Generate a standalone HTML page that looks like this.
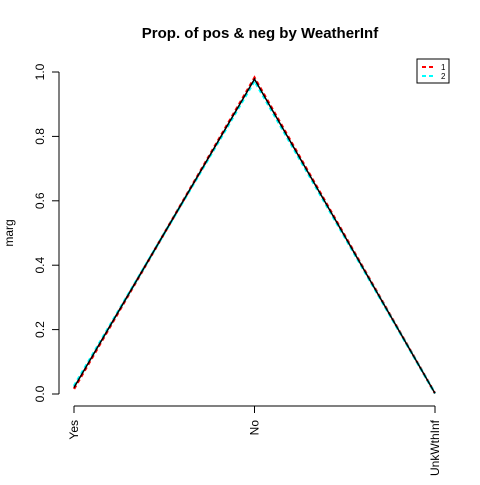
<!DOCTYPE html>
<html><head><meta charset="utf-8"><style>
body{margin:0;background:#fff}
svg text{font-family:"Liberation Sans",Arial,sans-serif}
</style></head><body>
<svg id="c" width="480" height="480">
<text x="260" y="38" text-anchor="middle" font-size="15" font-weight="bold">Prop. of pos &amp; neg by WeatherInf</text>
<text transform="translate(13,233) rotate(-90)" text-anchor="middle" font-size="12">marg</text>
<g id="axes"></g><g id="lines"></g>
<g>
<rect x="417" y="59" width="32" height="24" fill="#fff" stroke="#000" stroke-width="1"/>
<line x1="422" y1="67" x2="436" y2="67" stroke="#f00" stroke-width="2" stroke-dasharray="4,3"/>
<text x="441" y="70" font-size="8">1</text>
<line x1="422" y1="76" x2="436" y2="76" stroke="#0ff" stroke-width="2" stroke-dasharray="4,3"/>
<text x="441" y="79" font-size="8">2</text>
</g>
</svg>
<script>
const categories=["Yes","No","UnkWthInf"];
const seriesAll=[0.02,0.978,0.002];
const series1=[0.016,0.982,0.002];
const series2=[0.025,0.972,0.002];
const yTicks=[0,0.2,0.4,0.6,0.8,1.0];
const yTickLabels=["0.0","0.2","0.4","0.6","0.8","1.0"];
const NS="http://www.w3.org/2000/svg";
const xs=i=>74+i*(435-74)/(categories.length-1);
const ys=v=>394-v*322;
function mk(t,a,p){const e=document.createElementNS(NS,t);for(const k in a)e.setAttribute(k,a[k]);p.appendChild(e);return e;}
const ax=document.getElementById('axes');
let yl=mk('line',{x1:59,y1:ys(0),x2:59,y2:ys(1),stroke:'#000'},ax);


yTicks.forEach((v,i)=>{
 mk('line',{x1:52,y1:ys(v),x2:59,y2:ys(v),stroke:'#000'},ax);
 const t=mk('text',{transform:`translate(44,${ys(v)}) rotate(-90)`,'text-anchor':'middle','font-size':12},ax);
 t.textContent=yTickLabels[i];
 
 
});
let xl=mk('line',{x1:xs(0),y1:406,x2:xs(categories.length-1),y2:406,stroke:'#000'},ax);


categories.forEach((c,i)=>{
 mk('line',{x1:xs(i),y1:406,x2:xs(i),y2:413,stroke:'#000'},ax);
 const t=mk('text',{transform:`translate(${xs(i)+4},420) rotate(-90)`,'text-anchor':'end','font-size':12},ax);
 t.textContent=c;
 
 
});
const lg=document.getElementById('lines');
function line(d,col,dash,w,name){
 const p=mk('polyline',{points:d.map((v,i)=>xs(i)+','+ys(v)).join(' '),fill:'none',stroke:col,'stroke-width':w},lg);
 if(dash)p.setAttribute('stroke-dasharray',dash);
 
 
}
line(series1,'#f00','4,3',2.5,'series-1-line');
line(series2,'#0ff','4,3',2.5,'series-2-line');
line(seriesAll,'#000',null,1.5,'overall-line');
</script>
</body></html>
